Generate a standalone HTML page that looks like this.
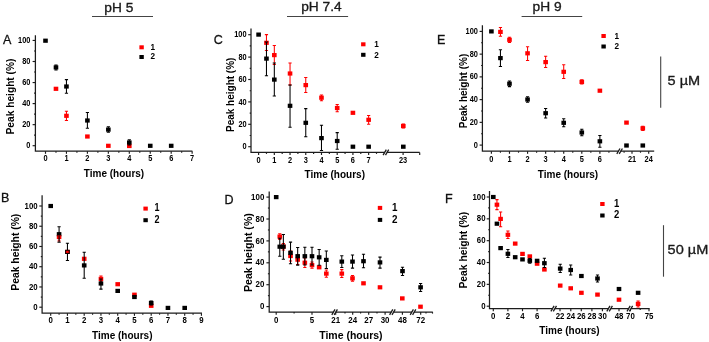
<!DOCTYPE html>
<html><head><meta charset="utf-8"><style>
html,body{margin:0;padding:0;background:#fff;width:709px;height:342px;overflow:hidden}
svg{display:block;font-family:"Liberation Sans",sans-serif;will-change:transform;filter:blur(0.3px)}
</style></head><body>
<svg width="709" height="342" viewBox="0 0 709 342">
<rect width="709" height="342" fill="#fff"/>
<path d="M35.40 35.30V151.20H192.40" stroke="#1c1c1c" stroke-width="1.25" fill="none"/>
<path d="M32.60 145.70H35.40" stroke="#1c1c1c" stroke-width="1.15"/>
<text x="0" y="0" font-size="8.4" font-weight="bold" text-anchor="end" fill="#000" transform="translate(30.40 148.30) scale(0.88 1)" >0</text>
<path d="M32.60 124.65H35.40" stroke="#1c1c1c" stroke-width="1.15"/>
<text x="0" y="0" font-size="8.4" font-weight="bold" text-anchor="end" fill="#000" transform="translate(30.40 127.25) scale(0.88 1)" >20</text>
<path d="M32.60 103.60H35.40" stroke="#1c1c1c" stroke-width="1.15"/>
<text x="0" y="0" font-size="8.4" font-weight="bold" text-anchor="end" fill="#000" transform="translate(30.40 106.20) scale(0.88 1)" >40</text>
<path d="M32.60 82.55H35.40" stroke="#1c1c1c" stroke-width="1.15"/>
<text x="0" y="0" font-size="8.4" font-weight="bold" text-anchor="end" fill="#000" transform="translate(30.40 85.15) scale(0.88 1)" >60</text>
<path d="M32.60 61.50H35.40" stroke="#1c1c1c" stroke-width="1.15"/>
<text x="0" y="0" font-size="8.4" font-weight="bold" text-anchor="end" fill="#000" transform="translate(30.40 64.10) scale(0.88 1)" >80</text>
<path d="M32.60 40.45H35.40" stroke="#1c1c1c" stroke-width="1.15"/>
<text x="0" y="0" font-size="8.4" font-weight="bold" text-anchor="end" fill="#000" transform="translate(30.40 43.05) scale(0.88 1)" >100</text>
<path d="M34.10 135.17H35.40" stroke="#1c1c1c" stroke-width="1.15"/>
<path d="M34.10 114.12H35.40" stroke="#1c1c1c" stroke-width="1.15"/>
<path d="M34.10 93.07H35.40" stroke="#1c1c1c" stroke-width="1.15"/>
<path d="M34.10 72.02H35.40" stroke="#1c1c1c" stroke-width="1.15"/>
<path d="M34.10 50.97H35.40" stroke="#1c1c1c" stroke-width="1.15"/>
<path d="M45.50 151.20V153.80" stroke="#1c1c1c" stroke-width="1.15"/>
<text x="0" y="0" font-size="8.4" font-weight="bold" text-anchor="middle" fill="#000" transform="translate(45.50 161.00) scale(0.88 1)" >0</text>
<path d="M66.45 151.20V153.80" stroke="#1c1c1c" stroke-width="1.15"/>
<text x="0" y="0" font-size="8.4" font-weight="bold" text-anchor="middle" fill="#000" transform="translate(66.45 161.00) scale(0.88 1)" >1</text>
<path d="M87.40 151.20V153.80" stroke="#1c1c1c" stroke-width="1.15"/>
<text x="0" y="0" font-size="8.4" font-weight="bold" text-anchor="middle" fill="#000" transform="translate(87.40 161.00) scale(0.88 1)" >2</text>
<path d="M108.35 151.20V153.80" stroke="#1c1c1c" stroke-width="1.15"/>
<text x="0" y="0" font-size="8.4" font-weight="bold" text-anchor="middle" fill="#000" transform="translate(108.35 161.00) scale(0.88 1)" >3</text>
<path d="M129.30 151.20V153.80" stroke="#1c1c1c" stroke-width="1.15"/>
<text x="0" y="0" font-size="8.4" font-weight="bold" text-anchor="middle" fill="#000" transform="translate(129.30 161.00) scale(0.88 1)" >4</text>
<path d="M150.25 151.20V153.80" stroke="#1c1c1c" stroke-width="1.15"/>
<text x="0" y="0" font-size="8.4" font-weight="bold" text-anchor="middle" fill="#000" transform="translate(150.25 161.00) scale(0.88 1)" >5</text>
<path d="M171.20 151.20V153.80" stroke="#1c1c1c" stroke-width="1.15"/>
<text x="0" y="0" font-size="8.4" font-weight="bold" text-anchor="middle" fill="#000" transform="translate(171.20 161.00) scale(0.88 1)" >6</text>
<path d="M192.15 151.20V153.80" stroke="#1c1c1c" stroke-width="1.15"/>
<text x="0" y="0" font-size="8.4" font-weight="bold" text-anchor="middle" fill="#000" transform="translate(192.15 161.00) scale(0.88 1)" >7</text>
<path d="M55.98 151.20V152.70" stroke="#1c1c1c" stroke-width="1.15"/>
<path d="M76.92 151.20V152.70" stroke="#1c1c1c" stroke-width="1.15"/>
<path d="M97.88 151.20V152.70" stroke="#1c1c1c" stroke-width="1.15"/>
<path d="M118.83 151.20V152.70" stroke="#1c1c1c" stroke-width="1.15"/>
<path d="M139.77 151.20V152.70" stroke="#1c1c1c" stroke-width="1.15"/>
<path d="M160.72 151.20V152.70" stroke="#1c1c1c" stroke-width="1.15"/>
<path d="M181.67 151.20V152.70" stroke="#1c1c1c" stroke-width="1.15"/>
<text x="114.00" y="176.60" font-size="10" font-weight="bold" text-anchor="middle" fill="#000" >Time (hours)</text>
<text x="0" y="0" font-size="10.2" font-weight="bold" text-anchor="middle" transform="translate(14.20 96.50) rotate(-90)">Peak height (%)</text>
<text x="0" y="0" font-size="13.2" font-weight="normal" text-anchor="start" fill="#111" transform="translate(3.00 44.00) scale(0.95 1)" stroke="#111" stroke-width="0.3">A</text>
<rect x="139.40" y="45.30" width="4.40" height="4.00" fill="#ff0000"/>
<rect x="139.40" y="55.00" width="4.40" height="4.00" fill="#000000"/>
<text x="150.60" y="49.70" font-size="8.2" font-weight="bold" text-anchor="start" fill="#000" >1</text>
<text x="150.60" y="59.40" font-size="8.2" font-weight="bold" text-anchor="start" fill="#000" >2</text>
<path d="M66.45 111.20V120.40M64.85 111.20H68.05M64.85 120.40H68.05" stroke="#ff0000" stroke-width="1.05" fill="none"/>
<rect x="53.68" y="86.71" width="4.60" height="4.19" fill="#ff0000"/>
<rect x="64.15" y="113.71" width="4.60" height="4.19" fill="#ff0000"/>
<rect x="85.10" y="134.41" width="4.60" height="4.19" fill="#ff0000"/>
<rect x="106.05" y="143.71" width="4.60" height="4.19" fill="#ff0000"/>
<rect x="127.00" y="143.91" width="4.60" height="4.19" fill="#ff0000"/>
<path d="M55.98 64.90V70.00M54.38 64.90H57.58M54.38 70.00H57.58" stroke="#000000" stroke-width="1.05" fill="none"/>
<path d="M66.45 79.60V93.30M64.85 79.60H68.05M64.85 93.30H68.05" stroke="#000000" stroke-width="1.05" fill="none"/>
<path d="M87.40 112.50V128.20M85.80 112.50H89.00M85.80 128.20H89.00" stroke="#000000" stroke-width="1.05" fill="none"/>
<path d="M108.35 126.70V132.30M106.75 126.70H109.95M106.75 132.30H109.95" stroke="#000000" stroke-width="1.05" fill="none"/>
<path d="M129.30 139.80V145.00M127.70 139.80H130.90M127.70 145.00H130.90" stroke="#000000" stroke-width="1.05" fill="none"/>
<rect x="43.20" y="38.61" width="4.60" height="4.19" fill="#000000"/>
<rect x="53.68" y="65.31" width="4.60" height="4.19" fill="#000000"/>
<rect x="64.15" y="84.41" width="4.60" height="4.19" fill="#000000"/>
<rect x="85.10" y="118.41" width="4.60" height="4.19" fill="#000000"/>
<rect x="106.05" y="127.51" width="4.60" height="4.19" fill="#000000"/>
<rect x="127.00" y="140.41" width="4.60" height="4.19" fill="#000000"/>
<rect x="147.95" y="143.71" width="4.60" height="4.19" fill="#000000"/>
<rect x="168.90" y="143.71" width="4.60" height="4.19" fill="#000000"/>
<path d="M251.00 28.50V152.40H419.70" stroke="#1c1c1c" stroke-width="1.25" fill="none"/>
<path d="M248.20 146.70H251.00" stroke="#1c1c1c" stroke-width="1.15"/>
<text x="0" y="0" font-size="8.4" font-weight="bold" text-anchor="end" fill="#000" transform="translate(246.60 149.30) scale(0.88 1)" >0</text>
<path d="M248.20 124.30H251.00" stroke="#1c1c1c" stroke-width="1.15"/>
<text x="0" y="0" font-size="8.4" font-weight="bold" text-anchor="end" fill="#000" transform="translate(246.60 126.90) scale(0.88 1)" >20</text>
<path d="M248.20 101.90H251.00" stroke="#1c1c1c" stroke-width="1.15"/>
<text x="0" y="0" font-size="8.4" font-weight="bold" text-anchor="end" fill="#000" transform="translate(246.60 104.50) scale(0.88 1)" >40</text>
<path d="M248.20 79.50H251.00" stroke="#1c1c1c" stroke-width="1.15"/>
<text x="0" y="0" font-size="8.4" font-weight="bold" text-anchor="end" fill="#000" transform="translate(246.60 82.10) scale(0.88 1)" >60</text>
<path d="M248.20 57.10H251.00" stroke="#1c1c1c" stroke-width="1.15"/>
<text x="0" y="0" font-size="8.4" font-weight="bold" text-anchor="end" fill="#000" transform="translate(246.60 59.70) scale(0.88 1)" >80</text>
<path d="M248.20 34.70H251.00" stroke="#1c1c1c" stroke-width="1.15"/>
<text x="0" y="0" font-size="8.4" font-weight="bold" text-anchor="end" fill="#000" transform="translate(246.60 37.30) scale(0.88 1)" >100</text>
<path d="M249.70 135.50H251.00" stroke="#1c1c1c" stroke-width="1.15"/>
<path d="M249.70 113.10H251.00" stroke="#1c1c1c" stroke-width="1.15"/>
<path d="M249.70 90.70H251.00" stroke="#1c1c1c" stroke-width="1.15"/>
<path d="M249.70 68.30H251.00" stroke="#1c1c1c" stroke-width="1.15"/>
<path d="M249.70 45.90H251.00" stroke="#1c1c1c" stroke-width="1.15"/>
<path d="M258.60 152.40V155.00" stroke="#1c1c1c" stroke-width="1.15"/>
<text x="0" y="0" font-size="8.4" font-weight="bold" text-anchor="middle" fill="#000" transform="translate(258.60 162.80) scale(0.88 1)" >0</text>
<path d="M274.32 152.40V155.00" stroke="#1c1c1c" stroke-width="1.15"/>
<text x="0" y="0" font-size="8.4" font-weight="bold" text-anchor="middle" fill="#000" transform="translate(274.32 162.80) scale(0.88 1)" >1</text>
<path d="M290.04 152.40V155.00" stroke="#1c1c1c" stroke-width="1.15"/>
<text x="0" y="0" font-size="8.4" font-weight="bold" text-anchor="middle" fill="#000" transform="translate(290.04 162.80) scale(0.88 1)" >2</text>
<path d="M305.76 152.40V155.00" stroke="#1c1c1c" stroke-width="1.15"/>
<text x="0" y="0" font-size="8.4" font-weight="bold" text-anchor="middle" fill="#000" transform="translate(305.76 162.80) scale(0.88 1)" >3</text>
<path d="M321.48 152.40V155.00" stroke="#1c1c1c" stroke-width="1.15"/>
<text x="0" y="0" font-size="8.4" font-weight="bold" text-anchor="middle" fill="#000" transform="translate(321.48 162.80) scale(0.88 1)" >4</text>
<path d="M337.20 152.40V155.00" stroke="#1c1c1c" stroke-width="1.15"/>
<text x="0" y="0" font-size="8.4" font-weight="bold" text-anchor="middle" fill="#000" transform="translate(337.20 162.80) scale(0.88 1)" >5</text>
<path d="M352.92 152.40V155.00" stroke="#1c1c1c" stroke-width="1.15"/>
<text x="0" y="0" font-size="8.4" font-weight="bold" text-anchor="middle" fill="#000" transform="translate(352.92 162.80) scale(0.88 1)" >6</text>
<path d="M368.64 152.40V155.00" stroke="#1c1c1c" stroke-width="1.15"/>
<text x="0" y="0" font-size="8.4" font-weight="bold" text-anchor="middle" fill="#000" transform="translate(368.64 162.80) scale(0.88 1)" >7</text>
<path d="M403.10 152.40V155.00" stroke="#1c1c1c" stroke-width="1.15"/>
<text x="0" y="0" font-size="8.4" font-weight="bold" text-anchor="middle" fill="#000" transform="translate(403.10 162.80) scale(0.88 1)" >23</text>
<path d="M266.46 152.40V153.90" stroke="#1c1c1c" stroke-width="1.15"/>
<path d="M282.18 152.40V153.90" stroke="#1c1c1c" stroke-width="1.15"/>
<path d="M297.90 152.40V153.90" stroke="#1c1c1c" stroke-width="1.15"/>
<path d="M313.62 152.40V153.90" stroke="#1c1c1c" stroke-width="1.15"/>
<path d="M329.34 152.40V153.90" stroke="#1c1c1c" stroke-width="1.15"/>
<path d="M345.06 152.40V153.90" stroke="#1c1c1c" stroke-width="1.15"/>
<path d="M360.78 152.40V153.90" stroke="#1c1c1c" stroke-width="1.15"/>
<path d="M376.50 152.40V153.90" stroke="#1c1c1c" stroke-width="1.15"/>
<path d="M419.70 152.40V155.00" stroke="#1c1c1c" stroke-width="1.15"/>
<rect x="384.90" y="151.40" width="2.0" height="2" fill="#fff"/>
<path d="M383.10 155.10L386.30 149.70M385.50 155.10L388.70 149.70" stroke="#1c1c1c" stroke-width="1.3" fill="none"/>
<text x="334.80" y="177.90" font-size="10" font-weight="bold" text-anchor="middle" fill="#000" >Time (hours)</text>
<text x="0" y="0" font-size="10" font-weight="bold" text-anchor="middle" transform="translate(234.00 94.80) rotate(-90)">Peak height (%)</text>
<text x="0" y="0" font-size="13.2" font-weight="normal" text-anchor="start" fill="#111" transform="translate(213.80 44.40) scale(0.95 1)" stroke="#111" stroke-width="0.3">C</text>
<rect x="361.10" y="42.30" width="4.40" height="4.00" fill="#ff0000"/>
<rect x="361.10" y="52.80" width="4.40" height="4.00" fill="#000000"/>
<text x="374.30" y="47.00" font-size="8.2" font-weight="bold" text-anchor="start" fill="#000" >1</text>
<text x="374.30" y="57.50" font-size="8.2" font-weight="bold" text-anchor="start" fill="#000" >2</text>
<path d="M266.46 34.60V50.40M264.86 34.60H268.06M264.86 50.40H268.06" stroke="#ff0000" stroke-width="1.05" fill="none"/>
<path d="M274.32 45.40V64.40M272.72 45.40H275.92M272.72 64.40H275.92" stroke="#ff0000" stroke-width="1.05" fill="none"/>
<path d="M290.04 63.00V84.90M288.44 63.00H291.64M288.44 84.90H291.64" stroke="#ff0000" stroke-width="1.05" fill="none"/>
<path d="M305.76 77.40V92.50M304.16 77.40H307.36M304.16 92.50H307.36" stroke="#ff0000" stroke-width="1.05" fill="none"/>
<path d="M321.48 94.90V100.70M319.88 94.90H323.08M319.88 100.70H323.08" stroke="#ff0000" stroke-width="1.05" fill="none"/>
<path d="M337.20 104.40V111.80M335.60 104.40H338.80M335.60 111.80H338.80" stroke="#ff0000" stroke-width="1.05" fill="none"/>
<path d="M368.64 115.40V124.20M367.04 115.40H370.24M367.04 124.20H370.24" stroke="#ff0000" stroke-width="1.05" fill="none"/>
<path d="M403.30 124.00V128.00M401.70 124.00H404.90M401.70 128.00H404.90" stroke="#ff0000" stroke-width="1.05" fill="none"/>
<rect x="264.16" y="40.71" width="4.60" height="4.19" fill="#ff0000"/>
<rect x="272.02" y="53.01" width="4.60" height="4.19" fill="#ff0000"/>
<rect x="287.74" y="71.41" width="4.60" height="4.19" fill="#ff0000"/>
<rect x="303.46" y="83.01" width="4.60" height="4.19" fill="#ff0000"/>
<rect x="319.18" y="95.61" width="4.60" height="4.19" fill="#ff0000"/>
<rect x="334.90" y="105.91" width="4.60" height="4.19" fill="#ff0000"/>
<rect x="350.62" y="110.71" width="4.60" height="4.19" fill="#ff0000"/>
<rect x="366.34" y="117.71" width="4.60" height="4.19" fill="#ff0000"/>
<rect x="401.00" y="123.91" width="4.60" height="4.19" fill="#ff0000"/>
<path d="M266.46 41.90V75.80M264.86 41.90H268.06M264.86 75.80H268.06" stroke="#000000" stroke-width="1.05" fill="none"/>
<path d="M274.32 63.00V96.00M272.72 63.00H275.92M272.72 96.00H275.92" stroke="#000000" stroke-width="1.05" fill="none"/>
<path d="M290.04 84.90V127.20M288.44 84.90H291.64M288.44 127.20H291.64" stroke="#000000" stroke-width="1.05" fill="none"/>
<path d="M305.76 108.60V136.70M304.16 108.60H307.36M304.16 136.70H307.36" stroke="#000000" stroke-width="1.05" fill="none"/>
<path d="M321.48 125.30V150.40M319.88 125.30H323.08M319.88 150.40H323.08" stroke="#000000" stroke-width="1.05" fill="none"/>
<path d="M337.20 132.60V149.30M335.60 132.60H338.80M335.60 149.30H338.80" stroke="#000000" stroke-width="1.05" fill="none"/>
<rect x="256.30" y="32.51" width="4.60" height="4.19" fill="#000000"/>
<rect x="264.16" y="56.51" width="4.60" height="4.19" fill="#000000"/>
<rect x="272.02" y="77.51" width="4.60" height="4.19" fill="#000000"/>
<rect x="287.74" y="103.71" width="4.60" height="4.19" fill="#000000"/>
<rect x="303.46" y="120.71" width="4.60" height="4.19" fill="#000000"/>
<rect x="319.18" y="136.01" width="4.60" height="4.19" fill="#000000"/>
<rect x="334.90" y="138.91" width="4.60" height="4.19" fill="#000000"/>
<rect x="350.62" y="144.61" width="4.60" height="4.19" fill="#000000"/>
<rect x="366.34" y="144.61" width="4.60" height="4.19" fill="#000000"/>
<rect x="401.00" y="144.61" width="4.60" height="4.19" fill="#000000"/>
<path d="M482.40 25.30V151.20H654.20" stroke="#1c1c1c" stroke-width="1.25" fill="none"/>
<path d="M479.60 145.10H482.40" stroke="#1c1c1c" stroke-width="1.15"/>
<text x="0" y="0" font-size="8.4" font-weight="bold" text-anchor="end" fill="#000" transform="translate(477.90 147.70) scale(0.88 1)" >0</text>
<path d="M479.60 122.36H482.40" stroke="#1c1c1c" stroke-width="1.15"/>
<text x="0" y="0" font-size="8.4" font-weight="bold" text-anchor="end" fill="#000" transform="translate(477.90 124.96) scale(0.88 1)" >20</text>
<path d="M479.60 99.62H482.40" stroke="#1c1c1c" stroke-width="1.15"/>
<text x="0" y="0" font-size="8.4" font-weight="bold" text-anchor="end" fill="#000" transform="translate(477.90 102.22) scale(0.88 1)" >40</text>
<path d="M479.60 76.88H482.40" stroke="#1c1c1c" stroke-width="1.15"/>
<text x="0" y="0" font-size="8.4" font-weight="bold" text-anchor="end" fill="#000" transform="translate(477.90 79.48) scale(0.88 1)" >60</text>
<path d="M479.60 54.14H482.40" stroke="#1c1c1c" stroke-width="1.15"/>
<text x="0" y="0" font-size="8.4" font-weight="bold" text-anchor="end" fill="#000" transform="translate(477.90 56.74) scale(0.88 1)" >80</text>
<path d="M479.60 31.40H482.40" stroke="#1c1c1c" stroke-width="1.15"/>
<text x="0" y="0" font-size="8.4" font-weight="bold" text-anchor="end" fill="#000" transform="translate(477.90 34.00) scale(0.88 1)" >100</text>
<path d="M481.10 133.73H482.40" stroke="#1c1c1c" stroke-width="1.15"/>
<path d="M481.10 110.99H482.40" stroke="#1c1c1c" stroke-width="1.15"/>
<path d="M481.10 88.25H482.40" stroke="#1c1c1c" stroke-width="1.15"/>
<path d="M481.10 65.51H482.40" stroke="#1c1c1c" stroke-width="1.15"/>
<path d="M481.10 42.77H482.40" stroke="#1c1c1c" stroke-width="1.15"/>
<path d="M491.40 151.20V153.80" stroke="#1c1c1c" stroke-width="1.15"/>
<text x="0" y="0" font-size="8.4" font-weight="bold" text-anchor="middle" fill="#000" transform="translate(491.40 162.40) scale(0.88 1)" >0</text>
<path d="M509.48 151.20V153.80" stroke="#1c1c1c" stroke-width="1.15"/>
<text x="0" y="0" font-size="8.4" font-weight="bold" text-anchor="middle" fill="#000" transform="translate(509.48 162.40) scale(0.88 1)" >1</text>
<path d="M527.56 151.20V153.80" stroke="#1c1c1c" stroke-width="1.15"/>
<text x="0" y="0" font-size="8.4" font-weight="bold" text-anchor="middle" fill="#000" transform="translate(527.56 162.40) scale(0.88 1)" >2</text>
<path d="M545.64 151.20V153.80" stroke="#1c1c1c" stroke-width="1.15"/>
<text x="0" y="0" font-size="8.4" font-weight="bold" text-anchor="middle" fill="#000" transform="translate(545.64 162.40) scale(0.88 1)" >3</text>
<path d="M563.72 151.20V153.80" stroke="#1c1c1c" stroke-width="1.15"/>
<text x="0" y="0" font-size="8.4" font-weight="bold" text-anchor="middle" fill="#000" transform="translate(563.72 162.40) scale(0.88 1)" >4</text>
<path d="M581.80 151.20V153.80" stroke="#1c1c1c" stroke-width="1.15"/>
<text x="0" y="0" font-size="8.4" font-weight="bold" text-anchor="middle" fill="#000" transform="translate(581.80 162.40) scale(0.88 1)" >5</text>
<path d="M599.88 151.20V153.80" stroke="#1c1c1c" stroke-width="1.15"/>
<text x="0" y="0" font-size="8.4" font-weight="bold" text-anchor="middle" fill="#000" transform="translate(599.88 162.40) scale(0.88 1)" >6</text>
<path d="M632.00 151.20V153.80" stroke="#1c1c1c" stroke-width="1.15"/>
<text x="0" y="0" font-size="8.4" font-weight="bold" text-anchor="middle" fill="#000" transform="translate(632.00 162.40) scale(0.88 1)" >21</text>
<path d="M648.70 151.20V153.80" stroke="#1c1c1c" stroke-width="1.15"/>
<text x="0" y="0" font-size="8.4" font-weight="bold" text-anchor="middle" fill="#000" transform="translate(648.70 162.40) scale(0.88 1)" >24</text>
<path d="M500.44 151.20V152.70" stroke="#1c1c1c" stroke-width="1.15"/>
<path d="M518.52 151.20V152.70" stroke="#1c1c1c" stroke-width="1.15"/>
<path d="M536.60 151.20V152.70" stroke="#1c1c1c" stroke-width="1.15"/>
<path d="M554.68 151.20V152.70" stroke="#1c1c1c" stroke-width="1.15"/>
<path d="M572.76 151.20V152.70" stroke="#1c1c1c" stroke-width="1.15"/>
<path d="M590.84 151.20V152.70" stroke="#1c1c1c" stroke-width="1.15"/>
<path d="M608.92 151.20V152.70" stroke="#1c1c1c" stroke-width="1.15"/>
<path d="M624.10 151.20V152.70" stroke="#1c1c1c" stroke-width="1.15"/>
<path d="M640.50 151.20V152.70" stroke="#1c1c1c" stroke-width="1.15"/>
<rect x="618.60" y="150.20" width="2.0" height="2" fill="#fff"/>
<path d="M616.80 153.90L620.00 148.50M619.20 153.90L622.40 148.50" stroke="#1c1c1c" stroke-width="1.3" fill="none"/>
<text x="568.00" y="177.60" font-size="10" font-weight="bold" text-anchor="middle" fill="#000" >Time (hours)</text>
<text x="0" y="0" font-size="10" font-weight="bold" text-anchor="middle" transform="translate(466.70 91.00) rotate(-90)">Peak height (%)</text>
<text x="0" y="0" font-size="13.2" font-weight="normal" text-anchor="start" fill="#111" transform="translate(437.00 44.20) scale(0.95 1)" stroke="#111" stroke-width="0.3">E</text>
<rect x="601.40" y="34.00" width="4.40" height="4.00" fill="#ff0000"/>
<rect x="601.40" y="44.50" width="4.40" height="4.00" fill="#000000"/>
<text x="614.60" y="38.90" font-size="8.2" font-weight="bold" text-anchor="start" fill="#000" >1</text>
<text x="614.60" y="49.40" font-size="8.2" font-weight="bold" text-anchor="start" fill="#000" >2</text>
<path d="M500.44 27.40V36.30M498.84 27.40H502.04M498.84 36.30H502.04" stroke="#ff0000" stroke-width="1.05" fill="none"/>
<path d="M509.48 37.20V42.40M507.88 37.20H511.08M507.88 42.40H511.08" stroke="#ff0000" stroke-width="1.05" fill="none"/>
<path d="M527.56 46.80V60.40M525.96 46.80H529.16M525.96 60.40H529.16" stroke="#ff0000" stroke-width="1.05" fill="none"/>
<path d="M545.64 56.30V67.40M544.04 56.30H547.24M544.04 67.40H547.24" stroke="#ff0000" stroke-width="1.05" fill="none"/>
<path d="M563.72 64.70V78.40M562.12 64.70H565.32M562.12 78.40H565.32" stroke="#ff0000" stroke-width="1.05" fill="none"/>
<path d="M581.80 79.80V84.00M580.20 79.80H583.40M580.20 84.00H583.40" stroke="#ff0000" stroke-width="1.05" fill="none"/>
<path d="M642.80 126.20V130.40M641.20 126.20H644.40M641.20 130.40H644.40" stroke="#ff0000" stroke-width="1.05" fill="none"/>
<rect x="498.14" y="29.81" width="4.60" height="4.19" fill="#ff0000"/>
<rect x="507.18" y="37.71" width="4.60" height="4.19" fill="#ff0000"/>
<rect x="525.26" y="51.21" width="4.60" height="4.19" fill="#ff0000"/>
<rect x="543.34" y="60.01" width="4.60" height="4.19" fill="#ff0000"/>
<rect x="561.42" y="69.71" width="4.60" height="4.19" fill="#ff0000"/>
<rect x="579.50" y="79.81" width="4.60" height="4.19" fill="#ff0000"/>
<rect x="597.58" y="88.61" width="4.60" height="4.19" fill="#ff0000"/>
<rect x="624.20" y="120.51" width="4.60" height="4.19" fill="#ff0000"/>
<rect x="640.50" y="126.21" width="4.60" height="4.19" fill="#ff0000"/>
<path d="M500.44 49.80V66.50M498.84 49.80H502.04M498.84 66.50H502.04" stroke="#000000" stroke-width="1.05" fill="none"/>
<path d="M509.48 80.90V86.60M507.88 80.90H511.08M507.88 86.60H511.08" stroke="#000000" stroke-width="1.05" fill="none"/>
<path d="M527.56 96.80V102.30M525.96 96.80H529.16M525.96 102.30H529.16" stroke="#000000" stroke-width="1.05" fill="none"/>
<path d="M545.64 108.40V117.90M544.04 108.40H547.24M544.04 117.90H547.24" stroke="#000000" stroke-width="1.05" fill="none"/>
<path d="M563.72 118.80V126.70M562.12 118.80H565.32M562.12 126.70H565.32" stroke="#000000" stroke-width="1.05" fill="none"/>
<path d="M581.80 129.30V135.80M580.20 129.30H583.40M580.20 135.80H583.40" stroke="#000000" stroke-width="1.05" fill="none"/>
<path d="M599.88 135.40V147.20M598.28 135.40H601.48M598.28 147.20H601.48" stroke="#000000" stroke-width="1.05" fill="none"/>
<rect x="489.10" y="29.31" width="4.60" height="4.19" fill="#000000"/>
<rect x="498.14" y="56.01" width="4.60" height="4.19" fill="#000000"/>
<rect x="507.18" y="81.61" width="4.60" height="4.19" fill="#000000"/>
<rect x="525.26" y="97.41" width="4.60" height="4.19" fill="#000000"/>
<rect x="543.34" y="111.11" width="4.60" height="4.19" fill="#000000"/>
<rect x="561.42" y="120.71" width="4.60" height="4.19" fill="#000000"/>
<rect x="579.50" y="130.41" width="4.60" height="4.19" fill="#000000"/>
<rect x="597.58" y="139.21" width="4.60" height="4.19" fill="#000000"/>
<rect x="624.20" y="143.41" width="4.60" height="4.19" fill="#000000"/>
<rect x="640.50" y="143.41" width="4.60" height="4.19" fill="#000000"/>
<path d="M42.10 195.30V313.20H202.00" stroke="#1c1c1c" stroke-width="1.25" fill="none"/>
<path d="M39.30 307.20H42.10" stroke="#1c1c1c" stroke-width="1.15"/>
<text x="0" y="0" font-size="8.9" font-weight="bold" text-anchor="end" fill="#000" transform="translate(37.60 309.80) scale(0.88 1)" >0</text>
<path d="M39.30 286.96H42.10" stroke="#1c1c1c" stroke-width="1.15"/>
<text x="0" y="0" font-size="8.9" font-weight="bold" text-anchor="end" fill="#000" transform="translate(37.60 289.56) scale(0.88 1)" >20</text>
<path d="M39.30 266.72H42.10" stroke="#1c1c1c" stroke-width="1.15"/>
<text x="0" y="0" font-size="8.9" font-weight="bold" text-anchor="end" fill="#000" transform="translate(37.60 269.32) scale(0.88 1)" >40</text>
<path d="M39.30 246.48H42.10" stroke="#1c1c1c" stroke-width="1.15"/>
<text x="0" y="0" font-size="8.9" font-weight="bold" text-anchor="end" fill="#000" transform="translate(37.60 249.08) scale(0.88 1)" >60</text>
<path d="M39.30 226.24H42.10" stroke="#1c1c1c" stroke-width="1.15"/>
<text x="0" y="0" font-size="8.9" font-weight="bold" text-anchor="end" fill="#000" transform="translate(37.60 228.84) scale(0.88 1)" >80</text>
<path d="M39.30 206.00H42.10" stroke="#1c1c1c" stroke-width="1.15"/>
<text x="0" y="0" font-size="8.9" font-weight="bold" text-anchor="end" fill="#000" transform="translate(37.60 208.60) scale(0.88 1)" >100</text>
<path d="M40.80 297.08H42.10" stroke="#1c1c1c" stroke-width="1.15"/>
<path d="M40.80 276.84H42.10" stroke="#1c1c1c" stroke-width="1.15"/>
<path d="M40.80 256.60H42.10" stroke="#1c1c1c" stroke-width="1.15"/>
<path d="M40.80 236.36H42.10" stroke="#1c1c1c" stroke-width="1.15"/>
<path d="M40.80 216.12H42.10" stroke="#1c1c1c" stroke-width="1.15"/>
<path d="M50.70 313.20V315.80" stroke="#1c1c1c" stroke-width="1.15"/>
<text x="0" y="0" font-size="8.9" font-weight="bold" text-anchor="middle" fill="#000" transform="translate(50.70 323.30) scale(0.88 1)" >0</text>
<path d="M67.45 313.20V315.80" stroke="#1c1c1c" stroke-width="1.15"/>
<text x="0" y="0" font-size="8.9" font-weight="bold" text-anchor="middle" fill="#000" transform="translate(67.45 323.30) scale(0.88 1)" >1</text>
<path d="M84.20 313.20V315.80" stroke="#1c1c1c" stroke-width="1.15"/>
<text x="0" y="0" font-size="8.9" font-weight="bold" text-anchor="middle" fill="#000" transform="translate(84.20 323.30) scale(0.88 1)" >2</text>
<path d="M100.95 313.20V315.80" stroke="#1c1c1c" stroke-width="1.15"/>
<text x="0" y="0" font-size="8.9" font-weight="bold" text-anchor="middle" fill="#000" transform="translate(100.95 323.30) scale(0.88 1)" >3</text>
<path d="M117.70 313.20V315.80" stroke="#1c1c1c" stroke-width="1.15"/>
<text x="0" y="0" font-size="8.9" font-weight="bold" text-anchor="middle" fill="#000" transform="translate(117.70 323.30) scale(0.88 1)" >4</text>
<path d="M134.45 313.20V315.80" stroke="#1c1c1c" stroke-width="1.15"/>
<text x="0" y="0" font-size="8.9" font-weight="bold" text-anchor="middle" fill="#000" transform="translate(134.45 323.30) scale(0.88 1)" >5</text>
<path d="M151.20 313.20V315.80" stroke="#1c1c1c" stroke-width="1.15"/>
<text x="0" y="0" font-size="8.9" font-weight="bold" text-anchor="middle" fill="#000" transform="translate(151.20 323.30) scale(0.88 1)" >6</text>
<path d="M167.95 313.20V315.80" stroke="#1c1c1c" stroke-width="1.15"/>
<text x="0" y="0" font-size="8.9" font-weight="bold" text-anchor="middle" fill="#000" transform="translate(167.95 323.30) scale(0.88 1)" >7</text>
<path d="M184.70 313.20V315.80" stroke="#1c1c1c" stroke-width="1.15"/>
<text x="0" y="0" font-size="8.9" font-weight="bold" text-anchor="middle" fill="#000" transform="translate(184.70 323.30) scale(0.88 1)" >8</text>
<path d="M201.45 313.20V315.80" stroke="#1c1c1c" stroke-width="1.15"/>
<text x="0" y="0" font-size="8.9" font-weight="bold" text-anchor="middle" fill="#000" transform="translate(201.45 323.30) scale(0.88 1)" >9</text>
<path d="M59.08 313.20V314.70" stroke="#1c1c1c" stroke-width="1.15"/>
<path d="M75.83 313.20V314.70" stroke="#1c1c1c" stroke-width="1.15"/>
<path d="M92.58 313.20V314.70" stroke="#1c1c1c" stroke-width="1.15"/>
<path d="M109.33 313.20V314.70" stroke="#1c1c1c" stroke-width="1.15"/>
<path d="M126.08 313.20V314.70" stroke="#1c1c1c" stroke-width="1.15"/>
<path d="M142.82 313.20V314.70" stroke="#1c1c1c" stroke-width="1.15"/>
<path d="M159.57 313.20V314.70" stroke="#1c1c1c" stroke-width="1.15"/>
<path d="M176.32 313.20V314.70" stroke="#1c1c1c" stroke-width="1.15"/>
<path d="M193.07 313.20V314.70" stroke="#1c1c1c" stroke-width="1.15"/>
<text x="122.30" y="338.60" font-size="10" font-weight="bold" text-anchor="middle" fill="#000" >Time (hours)</text>
<text x="0" y="0" font-size="10.35" font-weight="bold" text-anchor="middle" transform="translate(19.00 252.20) rotate(-90)">Peak height (%)</text>
<text x="0" y="0" font-size="13.2" font-weight="normal" text-anchor="start" fill="#111" transform="translate(1.00 202.20) scale(0.95 1)" stroke="#111" stroke-width="0.3">B</text>
<rect x="143.40" y="206.60" width="4.40" height="4.00" fill="#ff0000"/>
<rect x="143.40" y="218.20" width="4.40" height="4.00" fill="#000000"/>
<text x="0" y="0" font-size="10.0" font-weight="bold" text-anchor="start" fill="#000" transform="translate(154.50 211.10) scale(0.9 1)" >1</text>
<text x="0" y="0" font-size="10.0" font-weight="bold" text-anchor="start" fill="#000" transform="translate(154.50 222.70) scale(0.9 1)" >2</text>
<path d="M59.08 233.50V241.00M57.48 233.50H60.68M57.48 241.00H60.68" stroke="#ff0000" stroke-width="1.05" fill="none"/>
<path d="M100.95 276.00V281.80M99.35 276.00H102.55M99.35 281.80H102.55" stroke="#ff0000" stroke-width="1.05" fill="none"/>
<rect x="56.78" y="234.91" width="4.60" height="4.19" fill="#ff0000"/>
<rect x="65.15" y="249.81" width="4.60" height="4.19" fill="#ff0000"/>
<rect x="81.90" y="256.71" width="4.60" height="4.19" fill="#ff0000"/>
<rect x="98.65" y="276.81" width="4.60" height="4.19" fill="#ff0000"/>
<rect x="115.40" y="282.11" width="4.60" height="4.19" fill="#ff0000"/>
<rect x="132.15" y="292.61" width="4.60" height="4.19" fill="#ff0000"/>
<rect x="148.90" y="303.71" width="4.60" height="4.19" fill="#ff0000"/>
<path d="M59.08 226.80V242.30M57.48 226.80H60.68M57.48 242.30H60.68" stroke="#000000" stroke-width="1.05" fill="none"/>
<path d="M67.45 243.20V260.50M65.85 243.20H69.05M65.85 260.50H69.05" stroke="#000000" stroke-width="1.05" fill="none"/>
<path d="M84.20 252.30V278.20M82.60 252.30H85.80M82.60 278.20H85.80" stroke="#000000" stroke-width="1.05" fill="none"/>
<path d="M100.95 279.00V289.10M99.35 279.00H102.55M99.35 289.10H102.55" stroke="#000000" stroke-width="1.05" fill="none"/>
<path d="M151.20 301.00V305.00M149.60 301.00H152.80M149.60 305.00H152.80" stroke="#000000" stroke-width="1.05" fill="none"/>
<rect x="48.40" y="203.91" width="4.60" height="4.19" fill="#000000"/>
<rect x="56.78" y="232.11" width="4.60" height="4.19" fill="#000000"/>
<rect x="65.15" y="249.81" width="4.60" height="4.19" fill="#000000"/>
<rect x="81.90" y="263.31" width="4.60" height="4.19" fill="#000000"/>
<rect x="98.65" y="281.41" width="4.60" height="4.19" fill="#000000"/>
<rect x="115.40" y="288.81" width="4.60" height="4.19" fill="#000000"/>
<rect x="132.15" y="294.91" width="4.60" height="4.19" fill="#000000"/>
<rect x="148.90" y="300.91" width="4.60" height="4.19" fill="#000000"/>
<rect x="165.65" y="305.81" width="4.60" height="4.19" fill="#000000"/>
<rect x="182.40" y="305.81" width="4.60" height="4.19" fill="#000000"/>
<rect x="57.48" y="235.14" width="3.20" height="2.91" fill="#ff0000"/>
<path d="M59.08 232.50V238.50" stroke="#000000" stroke-width="1"/>
<rect x="66.15" y="250.72" width="2.60" height="2.37" fill="#ff0000"/>
<path d="M269.20 191.60V312.10H432.80" stroke="#1c1c1c" stroke-width="1.25" fill="none"/>
<path d="M266.40 306.60H269.20" stroke="#1c1c1c" stroke-width="1.15"/>
<text x="0" y="0" font-size="9.0" font-weight="bold" text-anchor="end" fill="#000" transform="translate(264.30 309.20) scale(0.88 1)" >0</text>
<path d="M266.40 284.70H269.20" stroke="#1c1c1c" stroke-width="1.15"/>
<text x="0" y="0" font-size="9.0" font-weight="bold" text-anchor="end" fill="#000" transform="translate(264.30 287.30) scale(0.88 1)" >20</text>
<path d="M266.40 262.80H269.20" stroke="#1c1c1c" stroke-width="1.15"/>
<text x="0" y="0" font-size="9.0" font-weight="bold" text-anchor="end" fill="#000" transform="translate(264.30 265.40) scale(0.88 1)" >40</text>
<path d="M266.40 240.90H269.20" stroke="#1c1c1c" stroke-width="1.15"/>
<text x="0" y="0" font-size="9.0" font-weight="bold" text-anchor="end" fill="#000" transform="translate(264.30 243.50) scale(0.88 1)" >60</text>
<path d="M266.40 219.00H269.20" stroke="#1c1c1c" stroke-width="1.15"/>
<text x="0" y="0" font-size="9.0" font-weight="bold" text-anchor="end" fill="#000" transform="translate(264.30 221.60) scale(0.88 1)" >80</text>
<path d="M266.40 197.10H269.20" stroke="#1c1c1c" stroke-width="1.15"/>
<text x="0" y="0" font-size="9.0" font-weight="bold" text-anchor="end" fill="#000" transform="translate(264.30 199.70) scale(0.88 1)" >100</text>
<path d="M267.90 295.65H269.20" stroke="#1c1c1c" stroke-width="1.15"/>
<path d="M267.90 273.75H269.20" stroke="#1c1c1c" stroke-width="1.15"/>
<path d="M267.90 251.85H269.20" stroke="#1c1c1c" stroke-width="1.15"/>
<path d="M267.90 229.95H269.20" stroke="#1c1c1c" stroke-width="1.15"/>
<path d="M267.90 208.05H269.20" stroke="#1c1c1c" stroke-width="1.15"/>
<path d="M276.20 312.10V314.70" stroke="#1c1c1c" stroke-width="1.15"/>
<text x="0" y="0" font-size="9.0" font-weight="bold" text-anchor="middle" fill="#000" transform="translate(276.20 322.60) scale(0.88 1)" >0</text>
<path d="M312.00 312.10V314.70" stroke="#1c1c1c" stroke-width="1.15"/>
<text x="0" y="0" font-size="9.0" font-weight="bold" text-anchor="middle" fill="#000" transform="translate(312.00 322.60) scale(0.88 1)" >5</text>
<path d="M335.70 312.10V314.70" stroke="#1c1c1c" stroke-width="1.15"/>
<text x="0" y="0" font-size="9.0" font-weight="bold" text-anchor="middle" fill="#000" transform="translate(335.70 322.60) scale(0.88 1)" >21</text>
<path d="M352.70 312.10V314.70" stroke="#1c1c1c" stroke-width="1.15"/>
<text x="0" y="0" font-size="9.0" font-weight="bold" text-anchor="middle" fill="#000" transform="translate(352.70 322.60) scale(0.88 1)" >24</text>
<path d="M368.70 312.10V314.70" stroke="#1c1c1c" stroke-width="1.15"/>
<text x="0" y="0" font-size="9.0" font-weight="bold" text-anchor="middle" fill="#000" transform="translate(368.70 322.60) scale(0.88 1)" >27</text>
<path d="M385.10 312.10V314.70" stroke="#1c1c1c" stroke-width="1.15"/>
<text x="0" y="0" font-size="9.0" font-weight="bold" text-anchor="middle" fill="#000" transform="translate(385.10 322.60) scale(0.88 1)" >30</text>
<path d="M402.40 312.10V314.70" stroke="#1c1c1c" stroke-width="1.15"/>
<text x="0" y="0" font-size="9.0" font-weight="bold" text-anchor="middle" fill="#000" transform="translate(402.40 322.60) scale(0.88 1)" >48</text>
<path d="M420.70 312.10V314.70" stroke="#1c1c1c" stroke-width="1.15"/>
<text x="0" y="0" font-size="9.0" font-weight="bold" text-anchor="middle" fill="#000" transform="translate(420.70 322.60) scale(0.88 1)" >72</text>
<path d="M294.10 312.10V313.60" stroke="#1c1c1c" stroke-width="1.15"/>
<path d="M345.00 312.10V313.60" stroke="#1c1c1c" stroke-width="1.15"/>
<path d="M360.60 312.10V313.60" stroke="#1c1c1c" stroke-width="1.15"/>
<path d="M377.00 312.10V313.60" stroke="#1c1c1c" stroke-width="1.15"/>
<path d="M426.00 312.10V313.60" stroke="#1c1c1c" stroke-width="1.15"/>
<path d="M432.50 312.10V313.60" stroke="#1c1c1c" stroke-width="1.15"/>
<rect x="333.60" y="311.10" width="2.0" height="2" fill="#fff"/>
<path d="M331.80 314.80L335.00 309.40M334.20 314.80L337.40 309.40" stroke="#1c1c1c" stroke-width="1.3" fill="none"/>
<rect x="391.40" y="311.10" width="2.0" height="2" fill="#fff"/>
<path d="M389.60 314.80L392.80 309.40M392.00 314.80L395.20 309.40" stroke="#1c1c1c" stroke-width="1.3" fill="none"/>
<rect x="412.00" y="311.10" width="2.0" height="2" fill="#fff"/>
<path d="M410.20 314.80L413.40 309.40M412.60 314.80L415.80 309.40" stroke="#1c1c1c" stroke-width="1.3" fill="none"/>
<text x="350.90" y="338.60" font-size="10.5" font-weight="bold" text-anchor="middle" fill="#000" >Time (hours)</text>
<text x="0" y="0" font-size="10.6" font-weight="bold" text-anchor="middle" transform="translate(251.80 252.60) rotate(-90)">Peak height (%)</text>
<text x="0" y="0" font-size="13.2" font-weight="normal" text-anchor="start" fill="#111" transform="translate(224.40 203.50) scale(0.95 1)" stroke="#111" stroke-width="0.3">D</text>
<rect x="377.80" y="205.90" width="4.40" height="4.00" fill="#ff0000"/>
<rect x="377.80" y="217.90" width="4.40" height="4.00" fill="#000000"/>
<text x="0" y="0" font-size="11.2" font-weight="bold" text-anchor="start" fill="#000" transform="translate(392.00 210.70) scale(0.88 1)" >1</text>
<text x="0" y="0" font-size="11.2" font-weight="bold" text-anchor="start" fill="#000" transform="translate(392.00 222.70) scale(0.88 1)" >2</text>
<path d="M279.78 233.80V239.40M278.18 233.80H281.38M278.18 239.40H281.38" stroke="#ff0000" stroke-width="1.05" fill="none"/>
<path d="M283.36 243.40V250.00M281.76 243.40H284.96M281.76 250.00H284.96" stroke="#ff0000" stroke-width="1.05" fill="none"/>
<path d="M290.52 251.00V261.00M288.92 251.00H292.12M288.92 261.00H292.12" stroke="#ff0000" stroke-width="1.05" fill="none"/>
<path d="M297.68 255.00V264.40M296.08 255.00H299.28M296.08 264.40H299.28" stroke="#ff0000" stroke-width="1.05" fill="none"/>
<path d="M304.84 258.00V267.40M303.24 258.00H306.44M303.24 267.40H306.44" stroke="#ff0000" stroke-width="1.05" fill="none"/>
<path d="M312.00 262.00V268.20M310.40 262.00H313.60M310.40 268.20H313.60" stroke="#ff0000" stroke-width="1.05" fill="none"/>
<path d="M326.32 270.00V277.20M324.72 270.00H327.92M324.72 277.20H327.92" stroke="#ff0000" stroke-width="1.05" fill="none"/>
<path d="M341.80 269.60V277.40M340.20 269.60H343.40M340.20 277.40H343.40" stroke="#ff0000" stroke-width="1.05" fill="none"/>
<path d="M352.50 275.50V281.10M350.90 275.50H354.10M350.90 281.10H354.10" stroke="#ff0000" stroke-width="1.05" fill="none"/>
<rect x="277.48" y="234.51" width="4.60" height="4.19" fill="#ff0000"/>
<rect x="281.06" y="244.41" width="4.60" height="4.19" fill="#ff0000"/>
<rect x="288.22" y="253.91" width="4.60" height="4.19" fill="#ff0000"/>
<rect x="295.38" y="257.61" width="4.60" height="4.19" fill="#ff0000"/>
<rect x="302.54" y="260.61" width="4.60" height="4.19" fill="#ff0000"/>
<rect x="309.70" y="263.01" width="4.60" height="4.19" fill="#ff0000"/>
<rect x="316.86" y="265.21" width="4.60" height="4.19" fill="#ff0000"/>
<rect x="324.02" y="271.51" width="4.60" height="4.19" fill="#ff0000"/>
<rect x="339.50" y="271.51" width="4.60" height="4.19" fill="#ff0000"/>
<rect x="350.20" y="276.21" width="4.60" height="4.19" fill="#ff0000"/>
<rect x="361.20" y="281.21" width="4.60" height="4.19" fill="#ff0000"/>
<rect x="377.70" y="285.21" width="4.60" height="4.19" fill="#ff0000"/>
<rect x="400.00" y="296.31" width="4.60" height="4.19" fill="#ff0000"/>
<rect x="418.20" y="304.61" width="4.60" height="4.19" fill="#ff0000"/>
<path d="M279.78 238.20V256.30M278.18 238.20H281.38M278.18 256.30H281.38" stroke="#000000" stroke-width="1.05" fill="none"/>
<path d="M283.36 234.50V259.20M281.76 234.50H284.96M281.76 259.20H284.96" stroke="#000000" stroke-width="1.05" fill="none"/>
<path d="M290.52 242.10V263.80M288.92 242.10H292.12M288.92 263.80H292.12" stroke="#000000" stroke-width="1.05" fill="none"/>
<path d="M297.68 247.40V265.10M296.08 247.40H299.28M296.08 265.10H299.28" stroke="#000000" stroke-width="1.05" fill="none"/>
<path d="M304.84 247.30V265.00M303.24 247.30H306.44M303.24 265.00H306.44" stroke="#000000" stroke-width="1.05" fill="none"/>
<path d="M312.00 247.30V265.00M310.40 247.30H313.60M310.40 265.00H313.60" stroke="#000000" stroke-width="1.05" fill="none"/>
<path d="M319.16 249.40V265.20M317.56 249.40H320.76M317.56 265.20H320.76" stroke="#000000" stroke-width="1.05" fill="none"/>
<path d="M326.32 251.00V268.50M324.72 251.00H327.92M324.72 268.50H327.92" stroke="#000000" stroke-width="1.05" fill="none"/>
<path d="M341.80 255.80V267.50M340.20 255.80H343.40M340.20 267.50H343.40" stroke="#000000" stroke-width="1.05" fill="none"/>
<path d="M352.50 255.00V268.10M350.90 255.00H354.10M350.90 268.10H354.10" stroke="#000000" stroke-width="1.05" fill="none"/>
<path d="M363.50 254.30V267.80M361.90 254.30H365.10M361.90 267.80H365.10" stroke="#000000" stroke-width="1.05" fill="none"/>
<path d="M380.00 257.10V268.10M378.40 257.10H381.60M378.40 268.10H381.60" stroke="#000000" stroke-width="1.05" fill="none"/>
<path d="M402.50 267.30V275.40M400.90 267.30H404.10M400.90 275.40H404.10" stroke="#000000" stroke-width="1.05" fill="none"/>
<path d="M420.60 283.50V291.40M419.00 283.50H422.20M419.00 291.40H422.20" stroke="#000000" stroke-width="1.05" fill="none"/>
<rect x="273.90" y="195.01" width="4.60" height="4.19" fill="#000000"/>
<rect x="277.48" y="244.61" width="4.60" height="4.19" fill="#000000"/>
<rect x="281.06" y="244.61" width="4.60" height="4.19" fill="#000000"/>
<rect x="288.22" y="250.71" width="4.60" height="4.19" fill="#000000"/>
<rect x="295.38" y="254.11" width="4.60" height="4.19" fill="#000000"/>
<rect x="302.54" y="254.11" width="4.60" height="4.19" fill="#000000"/>
<rect x="309.70" y="254.11" width="4.60" height="4.19" fill="#000000"/>
<rect x="316.86" y="255.21" width="4.60" height="4.19" fill="#000000"/>
<rect x="324.02" y="257.81" width="4.60" height="4.19" fill="#000000"/>
<rect x="339.50" y="259.51" width="4.60" height="4.19" fill="#000000"/>
<rect x="350.20" y="259.51" width="4.60" height="4.19" fill="#000000"/>
<rect x="361.20" y="259.11" width="4.60" height="4.19" fill="#000000"/>
<rect x="377.70" y="260.31" width="4.60" height="4.19" fill="#000000"/>
<rect x="400.20" y="269.01" width="4.60" height="4.19" fill="#000000"/>
<rect x="418.30" y="285.21" width="4.60" height="4.19" fill="#000000"/>
<path d="M489.50 191.10V308.60H649.60" stroke="#1c1c1c" stroke-width="1.25" fill="none"/>
<path d="M486.70 306.20H489.50" stroke="#1c1c1c" stroke-width="1.15"/>
<text x="0" y="0" font-size="8.9" font-weight="bold" text-anchor="end" fill="#000" transform="translate(485.50 308.80) scale(0.88 1)" >0</text>
<path d="M486.70 284.36H489.50" stroke="#1c1c1c" stroke-width="1.15"/>
<text x="0" y="0" font-size="8.9" font-weight="bold" text-anchor="end" fill="#000" transform="translate(485.50 286.96) scale(0.88 1)" >20</text>
<path d="M486.70 262.52H489.50" stroke="#1c1c1c" stroke-width="1.15"/>
<text x="0" y="0" font-size="8.9" font-weight="bold" text-anchor="end" fill="#000" transform="translate(485.50 265.12) scale(0.88 1)" >40</text>
<path d="M486.70 240.68H489.50" stroke="#1c1c1c" stroke-width="1.15"/>
<text x="0" y="0" font-size="8.9" font-weight="bold" text-anchor="end" fill="#000" transform="translate(485.50 243.28) scale(0.88 1)" >60</text>
<path d="M486.70 218.84H489.50" stroke="#1c1c1c" stroke-width="1.15"/>
<text x="0" y="0" font-size="8.9" font-weight="bold" text-anchor="end" fill="#000" transform="translate(485.50 221.44) scale(0.88 1)" >80</text>
<path d="M486.70 197.00H489.50" stroke="#1c1c1c" stroke-width="1.15"/>
<text x="0" y="0" font-size="8.9" font-weight="bold" text-anchor="end" fill="#000" transform="translate(485.50 199.60) scale(0.88 1)" >100</text>
<path d="M488.20 295.28H489.50" stroke="#1c1c1c" stroke-width="1.15"/>
<path d="M488.20 273.44H489.50" stroke="#1c1c1c" stroke-width="1.15"/>
<path d="M488.20 251.60H489.50" stroke="#1c1c1c" stroke-width="1.15"/>
<path d="M488.20 229.76H489.50" stroke="#1c1c1c" stroke-width="1.15"/>
<path d="M488.20 207.92H489.50" stroke="#1c1c1c" stroke-width="1.15"/>
<path d="M493.30 308.60V311.20" stroke="#1c1c1c" stroke-width="1.15"/>
<text x="0" y="0" font-size="8.9" font-weight="bold" text-anchor="middle" fill="#000" transform="translate(493.30 318.60) scale(0.88 1)" >0</text>
<path d="M507.90 308.60V311.20" stroke="#1c1c1c" stroke-width="1.15"/>
<text x="0" y="0" font-size="8.9" font-weight="bold" text-anchor="middle" fill="#000" transform="translate(507.90 318.60) scale(0.88 1)" >2</text>
<path d="M522.50 308.60V311.20" stroke="#1c1c1c" stroke-width="1.15"/>
<text x="0" y="0" font-size="8.9" font-weight="bold" text-anchor="middle" fill="#000" transform="translate(522.50 318.60) scale(0.88 1)" >4</text>
<path d="M537.10 308.60V311.20" stroke="#1c1c1c" stroke-width="1.15"/>
<text x="0" y="0" font-size="8.9" font-weight="bold" text-anchor="middle" fill="#000" transform="translate(537.10 318.60) scale(0.88 1)" >6</text>
<path d="M560.00 308.60V311.20" stroke="#1c1c1c" stroke-width="1.15"/>
<text x="0" y="0" font-size="8.9" font-weight="bold" text-anchor="middle" fill="#000" transform="translate(560.00 318.60) scale(0.88 1)" >22</text>
<path d="M570.80 308.60V311.20" stroke="#1c1c1c" stroke-width="1.15"/>
<text x="0" y="0" font-size="8.9" font-weight="bold" text-anchor="middle" fill="#000" transform="translate(570.80 318.60) scale(0.88 1)" >24</text>
<path d="M581.30 308.60V311.20" stroke="#1c1c1c" stroke-width="1.15"/>
<text x="0" y="0" font-size="8.9" font-weight="bold" text-anchor="middle" fill="#000" transform="translate(581.30 318.60) scale(0.88 1)" >26</text>
<path d="M591.90 308.60V311.20" stroke="#1c1c1c" stroke-width="1.15"/>
<text x="0" y="0" font-size="8.9" font-weight="bold" text-anchor="middle" fill="#000" transform="translate(591.90 318.60) scale(0.88 1)" >28</text>
<path d="M602.40 308.60V311.20" stroke="#1c1c1c" stroke-width="1.15"/>
<text x="0" y="0" font-size="8.9" font-weight="bold" text-anchor="middle" fill="#000" transform="translate(602.40 318.60) scale(0.88 1)" >30</text>
<path d="M619.00 308.60V311.20" stroke="#1c1c1c" stroke-width="1.15"/>
<text x="0" y="0" font-size="8.9" font-weight="bold" text-anchor="middle" fill="#000" transform="translate(619.00 318.60) scale(0.88 1)" >48</text>
<path d="M630.40 308.60V311.20" stroke="#1c1c1c" stroke-width="1.15"/>
<text x="0" y="0" font-size="8.9" font-weight="bold" text-anchor="middle" fill="#000" transform="translate(630.40 318.60) scale(0.88 1)" >70</text>
<path d="M649.00 308.60V311.20" stroke="#1c1c1c" stroke-width="1.15"/>
<text x="0" y="0" font-size="8.9" font-weight="bold" text-anchor="middle" fill="#000" transform="translate(649.00 318.60) scale(0.88 1)" >75</text>
<path d="M640.20 308.60V310.10" stroke="#1c1c1c" stroke-width="1.15"/>
<rect x="552.70" y="307.60" width="2.0" height="2" fill="#fff"/>
<path d="M550.90 311.30L554.10 305.90M553.30 311.30L556.50 305.90" stroke="#1c1c1c" stroke-width="1.3" fill="none"/>
<rect x="608.60" y="307.60" width="2.0" height="2" fill="#fff"/>
<path d="M606.80 311.30L610.00 305.90M609.20 311.30L612.40 305.90" stroke="#1c1c1c" stroke-width="1.3" fill="none"/>
<rect x="628.80" y="307.60" width="2.0" height="2" fill="#fff"/>
<path d="M627.00 311.30L630.20 305.90M629.40 311.30L632.60 305.90" stroke="#1c1c1c" stroke-width="1.3" fill="none"/>
<text x="569.50" y="334.40" font-size="10" font-weight="bold" text-anchor="middle" fill="#000" >Time (hours)</text>
<text x="0" y="0" font-size="10.3" font-weight="bold" text-anchor="middle" transform="translate(466.50 250.20) rotate(-90)">Peak height (%)</text>
<text x="0" y="0" font-size="13.2" font-weight="normal" text-anchor="start" fill="#111" transform="translate(445.00 202.80) scale(0.95 1)" stroke="#111" stroke-width="0.3">F</text>
<rect x="600.20" y="202.00" width="4.40" height="4.00" fill="#ff0000"/>
<rect x="600.20" y="213.50" width="4.40" height="4.00" fill="#000000"/>
<text x="0" y="0" font-size="10.8" font-weight="bold" text-anchor="start" fill="#000" transform="translate(614.10 206.60) scale(0.88 1)" >1</text>
<text x="0" y="0" font-size="10.8" font-weight="bold" text-anchor="start" fill="#000" transform="translate(614.10 218.10) scale(0.88 1)" >2</text>
<path d="M496.95 199.60V209.60M495.35 199.60H498.55M495.35 209.60H498.55" stroke="#ff0000" stroke-width="1.05" fill="none"/>
<path d="M500.60 212.00V226.70M499.00 212.00H502.20M499.00 226.70H502.20" stroke="#ff0000" stroke-width="1.05" fill="none"/>
<path d="M507.90 231.00V238.50M506.30 231.00H509.50M506.30 238.50H509.50" stroke="#ff0000" stroke-width="1.05" fill="none"/>
<path d="M638.10 300.90V306.90M636.50 300.90H639.70M636.50 306.90H639.70" stroke="#ff0000" stroke-width="1.05" fill="none"/>
<rect x="494.65" y="202.61" width="4.60" height="4.19" fill="#ff0000"/>
<rect x="498.30" y="216.81" width="4.60" height="4.19" fill="#ff0000"/>
<rect x="505.60" y="232.71" width="4.60" height="4.19" fill="#ff0000"/>
<rect x="512.90" y="241.51" width="4.60" height="4.19" fill="#ff0000"/>
<rect x="520.20" y="251.81" width="4.60" height="4.19" fill="#ff0000"/>
<rect x="527.50" y="254.31" width="4.60" height="4.19" fill="#ff0000"/>
<rect x="534.80" y="261.61" width="4.60" height="4.19" fill="#ff0000"/>
<rect x="542.10" y="267.41" width="4.60" height="4.19" fill="#ff0000"/>
<rect x="557.90" y="283.51" width="4.60" height="4.19" fill="#ff0000"/>
<rect x="568.40" y="286.21" width="4.60" height="4.19" fill="#ff0000"/>
<rect x="579.10" y="290.71" width="4.60" height="4.19" fill="#ff0000"/>
<rect x="595.20" y="292.51" width="4.60" height="4.19" fill="#ff0000"/>
<rect x="616.70" y="297.61" width="4.60" height="4.19" fill="#ff0000"/>
<rect x="635.80" y="301.81" width="4.60" height="4.19" fill="#ff0000"/>
<path d="M507.90 249.50V257.50M506.30 249.50H509.50M506.30 257.50H509.50" stroke="#000000" stroke-width="1.05" fill="none"/>
<path d="M529.80 258.50V263.20M528.20 258.50H531.40M528.20 263.20H531.40" stroke="#000000" stroke-width="1.05" fill="none"/>
<path d="M544.40 258.30V267.50M542.80 258.30H546.00M542.80 267.50H546.00" stroke="#000000" stroke-width="1.05" fill="none"/>
<path d="M560.20 264.20V272.50M558.60 264.20H561.80M558.60 272.50H561.80" stroke="#000000" stroke-width="1.05" fill="none"/>
<path d="M570.70 265.00V275.00M569.10 265.00H572.30M569.10 275.00H572.30" stroke="#000000" stroke-width="1.05" fill="none"/>
<path d="M597.50 275.00V282.00M595.90 275.00H599.10M595.90 282.00H599.10" stroke="#000000" stroke-width="1.05" fill="none"/>
<rect x="491.00" y="194.91" width="4.60" height="4.19" fill="#000000"/>
<rect x="494.65" y="221.61" width="4.60" height="4.19" fill="#000000"/>
<rect x="498.30" y="246.01" width="4.60" height="4.19" fill="#000000"/>
<rect x="505.60" y="251.71" width="4.60" height="4.19" fill="#000000"/>
<rect x="512.90" y="255.11" width="4.60" height="4.19" fill="#000000"/>
<rect x="520.20" y="257.31" width="4.60" height="4.19" fill="#000000"/>
<rect x="527.50" y="258.71" width="4.60" height="4.19" fill="#000000"/>
<rect x="534.80" y="258.71" width="4.60" height="4.19" fill="#000000"/>
<rect x="542.10" y="261.11" width="4.60" height="4.19" fill="#000000"/>
<rect x="557.90" y="266.51" width="4.60" height="4.19" fill="#000000"/>
<rect x="568.40" y="267.91" width="4.60" height="4.19" fill="#000000"/>
<rect x="579.10" y="273.91" width="4.60" height="4.19" fill="#000000"/>
<rect x="595.20" y="276.41" width="4.60" height="4.19" fill="#000000"/>
<rect x="616.70" y="286.91" width="4.60" height="4.19" fill="#000000"/>
<rect x="635.80" y="290.71" width="4.60" height="4.19" fill="#000000"/>
<text x="0" y="0" font-size="12.4" font-weight="normal" text-anchor="start" fill="#1a1a1a" transform="translate(104.30 12.40) scale(1.11 1)" stroke="#1a1a1a" stroke-width="0.32">pH 5</text>
<path d="M92.0 16.5H153.0" stroke="#444" stroke-width="1.1"/>
<text x="0" y="0" font-size="12.4" font-weight="normal" text-anchor="start" fill="#1a1a1a" transform="translate(301.20 11.20) scale(1.11 1)" stroke="#1a1a1a" stroke-width="0.32">pH 7.4</text>
<path d="M287.0 16.5H348.1" stroke="#444" stroke-width="1.1"/>
<text x="0" y="0" font-size="12.4" font-weight="normal" text-anchor="start" fill="#1a1a1a" transform="translate(532.50 11.20) scale(1.11 1)" stroke="#1a1a1a" stroke-width="0.32">pH 9</text>
<path d="M521.6 16.5H582.2" stroke="#444" stroke-width="1.1"/>
<path d="M660.7 56.4V107.8" stroke="#444" stroke-width="1.1"/>
<text x="0" y="0" font-size="13.6" font-weight="normal" text-anchor="start" fill="#1a1a1a" transform="translate(667.60 85.00) scale(1.07 1)" stroke="#1a1a1a" stroke-width="0.32">5 &#181;M</text>
<path d="M663.5 225.2V276.7" stroke="#444" stroke-width="1.1"/>
<text x="0" y="0" font-size="13.6" font-weight="normal" text-anchor="start" fill="#1a1a1a" transform="translate(667.60 253.90) scale(1.07 1)" stroke="#1a1a1a" stroke-width="0.32">50 &#181;M</text>
</svg></body></html>
